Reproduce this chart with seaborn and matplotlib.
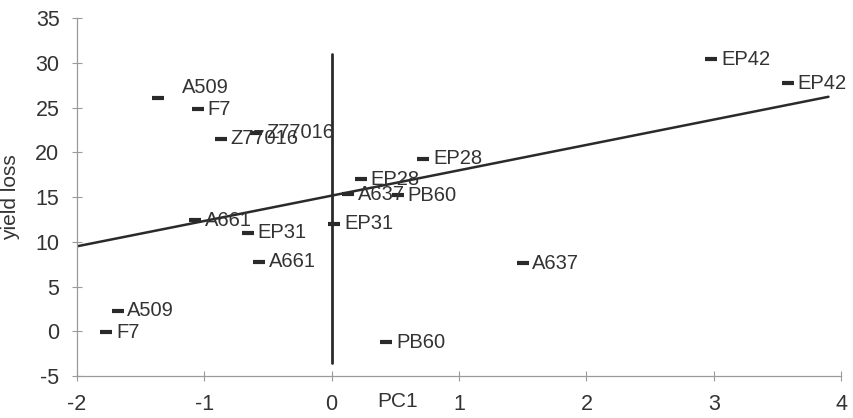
import matplotlib
matplotlib.use("Agg")
import matplotlib.pyplot as plt
import seaborn as sns
import pandas as pd

# PCA scores of each genotype against yield loss
genotypes = ["A509", "F7", "Z77016", "Z77016", "EP28", "EP28", "A637", "PB60",
             "EP31", "A637", "PB60", "A661", "EP31", "A661", "A509", "F7",
             "EP42", "EP42"]
pc1 = [-1.36, -1.05, -0.87, -0.59, 0.72, 0.23, 0.13, 0.52,
       0.02, 1.50, 0.43, -1.07, -0.66, -0.57, -1.68, -1.77,
       2.98, 3.58]
yield_loss = [26.1, 24.8, 21.5, 22.2, 19.3, 17.0, 15.3, 15.2,
              12.0, 7.6, -1.2, 12.4, 11.0, 7.8, 2.3, -0.1,
              30.4, 27.7]

# Fitted trend line and vertical reference line at PC1 = 0
trend_x = [-2.0, 3.9]
trend_y = [9.5, 26.2]
vref_x = [0.0, 0.0]
vref_y = [-3.5, 31.0]

x_ticks = [-2, -1, 0, 1, 2, 3, 4]
y_ticks = [-5, 0, 5, 10, 15, 20, 25, 30, 35]

sns.set_theme(style="white")
plt.rcParams["font.family"] = ["Liberation Sans", "DejaVu Sans"]

df = pd.DataFrame({"pc1": pc1, "yield_loss": yield_loss, "genotype": genotypes})

fig = plt.figure(figsize=(8.54, 4.18), dpi=100)
ax = fig.add_axes([0.090, 0.100, 0.895, 0.857])

ink = "#2a2a2a"

sns.lineplot(x=trend_x, y=trend_y, ax=ax, color=ink, linewidth=1.8,
             estimator=None, sort=False)
sns.lineplot(x=vref_x, y=vref_y, ax=ax, color=ink, linewidth=2.0,
             estimator=None, sort=False)
sns.scatterplot(data=df, x="pc1", y="yield_loss", ax=ax, marker="_",
                s=70, linewidth=3.0, color=ink, zorder=3)

# data labels sit just right of each marker; one is nudged up and right
label_offsets = {0: (17, 7)}
for i, (x, y, name) in enumerate(zip(pc1, yield_loss, genotypes)):
    dx, dy = label_offsets.get(i, (7, 0))
    ax.annotate(name, (x, y), xytext=(dx, dy), textcoords="offset points",
                ha="left", va="center", fontsize=14.5, color="#333333")

ax.set_xlim(-2, 4)
ax.set_ylim(-5, 35)
ax.set_xticks(x_ticks)
ax.set_yticks(y_ticks)
ax.set_xticklabels([str(t) for t in x_ticks])
ax.set_yticklabels([str(t) for t in y_ticks])
ax.tick_params(axis="both", which="major", bottom=True, left=True,
               direction="inout", length=7, width=0.8, color="#9a9a9a",
               labelsize=15.5, labelcolor="#333333")
ax.tick_params(axis="x", pad=9)
ax.tick_params(axis="y", pad=9)

for side in ["top", "right"]:
    ax.spines[side].set_visible(False)
for side in ["left", "bottom"]:
    ax.spines[side].set_color("#9a9a9a")
    ax.spines[side].set_linewidth(0.9)

ax.set_xlabel("PC1", fontsize=15, color="#333333")
ax.set_ylabel("yield loss", fontsize=15, color="#333333")
ax.xaxis.set_label_coords(0.42, -0.045)
ax.yaxis.set_label_coords(-0.075, 0.5)

fig.savefig("out.png", dpi=100, facecolor="white")
